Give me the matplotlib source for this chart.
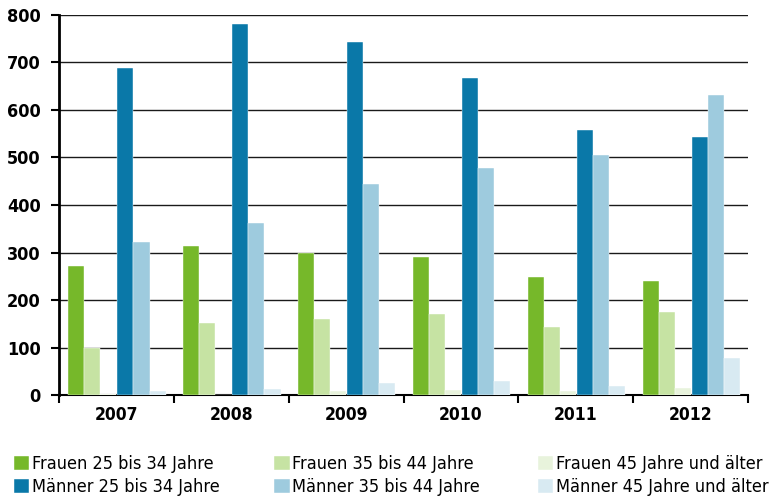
import matplotlib

matplotlib.use("Agg")
import matplotlib.pyplot as plt
import numpy as np

YEARS = ["2007", "2008", "2009", "2010", "2011", "2012"]
SERIES = [
    "Frauen 25 bis 34 Jahre",
    "Männer 25 bis 34 Jahre",
    "Frauen 35 bis 44 Jahre",
    "Männer 35 bis 44 Jahre",
    "Frauen 45 Jahre und älter",
    "Männer 45 Jahre und älter",
]
frauen_25_34 = [272, 313, 300, 290, 248, 240]
frauen_35_44 = [100, 151, 161, 171, 143, 175]
frauen_45 = [2, 1, 8, 10, 8, 16]
maenner_25_34 = [688, 780, 742, 668, 557, 544]
maenner_35_44 = [322, 362, 444, 478, 505, 631]
maenner_45 = [8, 13, 26, 29, 20, 79]

# bar order within each year group
BAR_ORDER = [frauen_25_34, frauen_35_44, frauen_45, maenner_25_34, maenner_35_44, maenner_45]
COLORS = ["#76b82a", "#c6e3a3", "#e8f3dc", "#0a78a8", "#9ecbde", "#d8eaf2"]
LABELS = [SERIES[0], SERIES[2], SERIES[4], SERIES[1], SERIES[3], SERIES[5]]

plt.rcParams["font.family"] = ["DejaVu Sans"]
plt.rcParams["font.stretch"] = "condensed"

fig = plt.figure(figsize=(7.73, 4.97), dpi=100)
ax = fig.add_axes([0.076, 0.205, 0.892, 0.765])

x = np.arange(len(YEARS))
width = 0.14
handles = {}
for k, (vals, color, label) in enumerate(zip(BAR_ORDER, COLORS, LABELS)):
    pos = x - 0.5 + 0.08 + width * (k + 0.5) + (0.01 if k >= 3 else 0)
    h = ax.bar(pos, vals, width=width, color=color, label=label, zorder=3,
               edgecolor="white", linewidth=0.3)
    handles[label] = h

ax.set_xlim(-0.5, len(YEARS) - 0.5)
ax.set_ylim(0, 800)
ax.set_yticks(range(0, 801, 100))
ax.yaxis.grid(True, color="#1a1a1a", linewidth=1.0, zorder=0)
ax.set_axisbelow(True)

for side in ("top", "right"):
    ax.spines[side].set_visible(False)
ax.spines["left"].set_linewidth(2.0)
ax.spines["bottom"].set_linewidth(1.5)

ax.set_xticks(x)
ax.set_xticklabels(YEARS, fontweight="bold", fontsize=12.5)
ax.set_xticks(np.arange(-0.5, len(YEARS)), minor=True)
ax.tick_params(axis="x", which="major", length=0, pad=8)
ax.tick_params(axis="x", which="minor", length=6, width=1.5, direction="out")
ax.tick_params(axis="y", length=6, width=1.5, direction="out", labelsize=13, pad=7)
for lbl in ax.get_yticklabels():
    lbl.set_fontweight("bold")

# one legend per column, placed like the reference
columns = [(SERIES[0], SERIES[1]), (SERIES[2], SERIES[3]), (SERIES[4], SERIES[5])]
col_x = [0.004, 0.341, 0.682]
for names, cx in zip(columns, col_x):
    leg = fig.legend([handles[s] for s in names], names, loc="lower left",
                     bbox_to_anchor=(cx, -0.02), ncol=1, frameon=False,
                     fontsize=13, handlelength=0.85, handleheight=0.85,
                     handletextpad=0.15, labelspacing=0.28, borderaxespad=0.2)

fig.savefig("out.png", dpi=100)
